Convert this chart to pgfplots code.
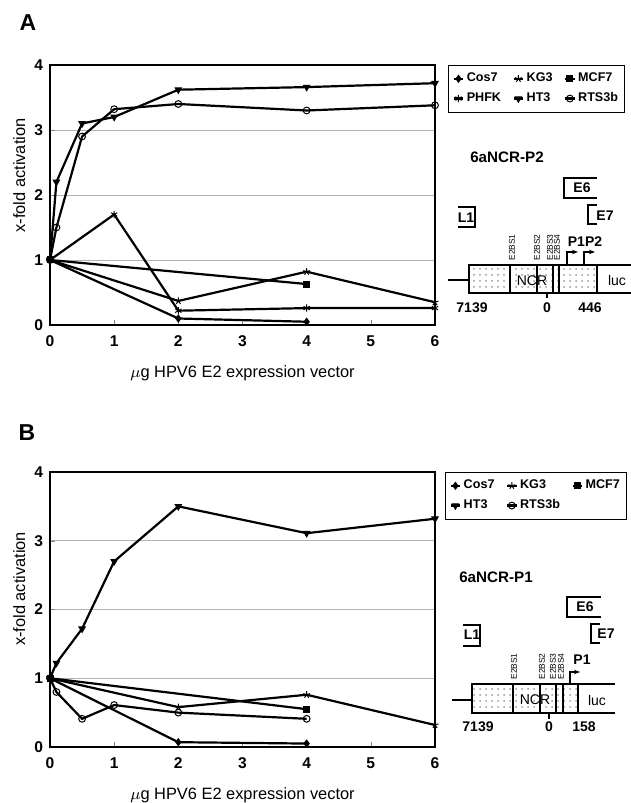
\documentclass[border=0pt]{standalone}
\usepackage{pgfplots}
\pgfplotsset{compat=1.18}
\usetikzlibrary{patterns,arrows.meta}
\usepackage{fontspec}
\setmainfont{Liberation Sans}

\pgfplotsset{
  panel/.style={
    scale only axis, width=192.5pt,
    xmin=0, xmax=6, ymin=0, ymax=4,
    xtick={0,...,6}, ytick={0,...,4},
    tick pos=left, tick align=inside, major tick length=2.5pt,
    ymajorgrids, grid style={gray!60, line width=0.45pt},
    axis line style={line width=0.6pt},
    clip=false,
    /pgf/number format/assume math mode=true,
    tick label style={font=\fontsize{7.8}{8}\selectfont\bfseries},
    xticklabel style={yshift=-2pt},
    label style={font=\fontsize{8.2}{9}\selectfont},
    xlabel={$\mu$g HPV6 E2 expression vector},
    ylabel={x-fold activation},
    xlabel style={at={(axis description cs:0.5,0)}, anchor=center, yshift=-24pt},
    ylabel style={at={(axis description cs:-0.08,0.575)}, anchor=center},
    legend columns=3,
    legend cell align=left,
    legend style={anchor=north west, draw=black, line width=0.5pt,
      font=\fontsize{6.3}{7}\selectfont\bfseries, inner xsep=2pt, inner ysep=2.5pt,
      row sep=1.5pt, nodes={inner sep=1.2pt},
      /tikz/every even column/.append style={column sep=4.5pt}},
    legend image code/.code={\draw[mark repeat=2,mark phase=2,#1]
      plot coordinates {(0pt,0pt) (2.4pt,0pt) (4.8pt,0pt)};},
    every axis plot/.append style={line width=1.1pt, black},
  },
  cos/.style={mark=diamond*, mark size=1.7pt, mark options={line width=0.5pt}},
  kg/.style={mark=star, mark size=1.8pt, mark options={line width=0.5pt}},
  mcf/.style={mark=square*, mark size=1.5pt, mark options={line width=0.5pt}},
  phfk/.style={mark=asterisk, mark size=1.8pt, mark options={line width=0.5pt}},
  ht/.style={mark=triangle*, mark size=1.8pt, mark options={rotate=180, line width=0.5pt}},
  rts/.style={mark=o, mark size=1.7pt, mark options={fill=white, line width=0.5pt}},
}

\begin{document}
\begin{tikzpicture}
\path[use as bounding box] (0,0) rectangle (315.5pt,401.5pt);

% panel A
\begin{axis}[panel, at={(25pt,239pt)}, anchor=south west, height=130pt,
    legend style={at={(1.034,1.0)}}]
\addplot[cos] coordinates {(0,1) (2,0.1) (4,0.05)};
\addlegendentry{Cos7}
\addplot[kg] coordinates {(0,1) (2,0.37) (4,0.82) (6,0.35)};
\addlegendentry{KG3}
\addplot[mcf] coordinates {(0,1) (4,0.63)};
\addlegendentry{MCF7}
\addplot[phfk] coordinates {(0,1) (1,1.7) (2,0.22) (4,0.26) (6,0.26)};
\addlegendentry{PHFK}
\addplot[ht] coordinates {(0,1) (0.1,2.2) (0.5,3.1) (1,3.2) (2,3.62) (4,3.66) (6,3.72)};
\addlegendentry{HT3}
\addplot[rts] coordinates {(0,1) (0.1,1.5) (0.5,2.9) (1,3.32) (2,3.4) (4,3.3) (6,3.38)};
\addlegendentry{RTS3b}
\end{axis}

% panel B
\begin{axis}[panel, at={(25pt,28pt)}, anchor=south west, height=137.5pt,
    legend style={at={(1.026,1.0)}}]
\addplot[cos] coordinates {(0,1) (2,0.07) (4,0.05)};
\addlegendentry{Cos7}
\addplot[kg] coordinates {(0,1) (2,0.58) (4,0.76) (6,0.32)};
\addlegendentry{KG3}
\addplot[mcf] coordinates {(0,1) (4,0.55)};
\addlegendentry{MCF7}
\addplot[ht] coordinates {(0,1) (0.1,1.22) (0.5,1.72) (1,2.7) (2,3.5) (4,3.11) (6,3.32)};
\addlegendentry{HT3}
\addplot[rts] coordinates {(0,1) (0.1,0.8) (0.5,0.41) (1,0.61) (2,0.5) (4,0.41)};
\addlegendentry{RTS3b}
\end{axis}

% letters and construct schematics, in pixel units of the figure
\begin{scope}[x=0.5pt, y=-0.5pt, shift={(0pt,401.5pt)},
    lbl/.style={font=\fontsize{7}{8}\selectfont\bfseries, inner sep=0pt},
    bs/.style={rotate=90, anchor=west, inner sep=0pt, font=\fontsize{4.2}{5}\selectfont},
    br/.style={line width=1.1pt}]
\node[font=\fontsize{11.5}{12}\selectfont\bfseries] at (28,23) {A};
\node[font=\fontsize{11.5}{12}\selectfont\bfseries] at (27,433) {B};

% --- A: 6aNCR-P2
\node[font=\fontsize{7.6}{8}\selectfont\bfseries] at (507,157) {6aNCR-P2};
\draw[br] (597,178) -- (564,178) -- (564,198) -- (597,198);
\node[lbl] at (582,188) {E6};
\draw[br] (597,205) -- (588,205) -- (588,224) -- (597,224);
\node[lbl] at (605,216) {E7};
\draw[br] (458,207) -- (475,207) -- (475,227) -- (458,227);
\node[lbl] at (466,218) {L1};
\draw[line width=1.1pt] (448,280) -- (469,280);
\fill[pattern=dots, pattern color=gray!80] (469,265) rectangle (597,293);
\draw[line width=1.1pt] (631,265) -- (469,265) -- (469,293) -- (631,293);
\foreach \xx in {510,537,553,559,597} \draw[line width=0.9pt] (\xx,265) -- (\xx,293);
\node[font=\fontsize{7}{8}\selectfont, inner sep=0pt] at (532,281) {NCR};
\node[font=\fontsize{7}{8}\selectfont, inner sep=0pt] at (617,281) {luc};
\node[bs] at (512,261) {E2BS1};
\node[bs] at (537,261) {E2BS2};
\node[bs] at (550,261) {E2BS3};
\node[bs] at (557,261) {E2BS4};
\node[lbl] at (585,242) {P1P2};
\draw[line width=0.7pt, -{Stealth[length=3pt]}] (567,265) -- (567,252) -- (578,252);
\draw[line width=0.7pt, -{Stealth[length=3pt]}] (584,265) -- (584,252) -- (595,252);
\draw[line width=1pt] (547,293) -- (547,298);
\node[lbl] at (472,308) {7139};
\node[lbl] at (547,308) {0};
\node[lbl] at (590,308) {446};

% --- B: 6aNCR-P1
\node[font=\fontsize{7.6}{8}\selectfont\bfseries] at (496,577) {6aNCR-P1};
\draw[br] (601,597) -- (567,597) -- (567,617) -- (601,617);
\node[lbl] at (585,607) {E6};
\draw[br] (600,624) -- (591,624) -- (591,643) -- (600,643);
\node[lbl] at (606,634) {E7};
\draw[br] (463,625) -- (480,625) -- (480,646) -- (463,646);
\node[lbl] at (472,635) {L1};
\draw[line width=1.1pt] (452,700) -- (472,700);
\fill[pattern=dots, pattern color=gray!80] (472,684) rectangle (578,713);
\draw[line width=1.1pt] (615,684) -- (472,684) -- (472,713) -- (615,713);
\foreach \xx in {513,540,556,563,578} \draw[line width=0.9pt] (\xx,684) -- (\xx,713);
\node[font=\fontsize{7}{8}\selectfont, inner sep=0pt] at (535,700) {NCR};
\node[font=\fontsize{7}{8}\selectfont, inner sep=0pt] at (597,700) {luc};
\node[bs] at (514,680) {E2BS1};
\node[bs] at (542,680) {E2BS2};
\node[bs] at (553,680) {E2BS3};
\node[bs] at (561,680) {E2BS4};
\node[lbl] at (582,660) {P1};
\draw[line width=0.7pt, -{Stealth[length=3pt]}] (570,684) -- (570,672) -- (580,672);
\draw[line width=1pt] (549,713) -- (549,719);
\node[lbl] at (478,727) {7139};
\node[lbl] at (549,727) {0};
\node[lbl] at (584,727) {158};
\end{scope}
\end{tikzpicture}
\end{document}
